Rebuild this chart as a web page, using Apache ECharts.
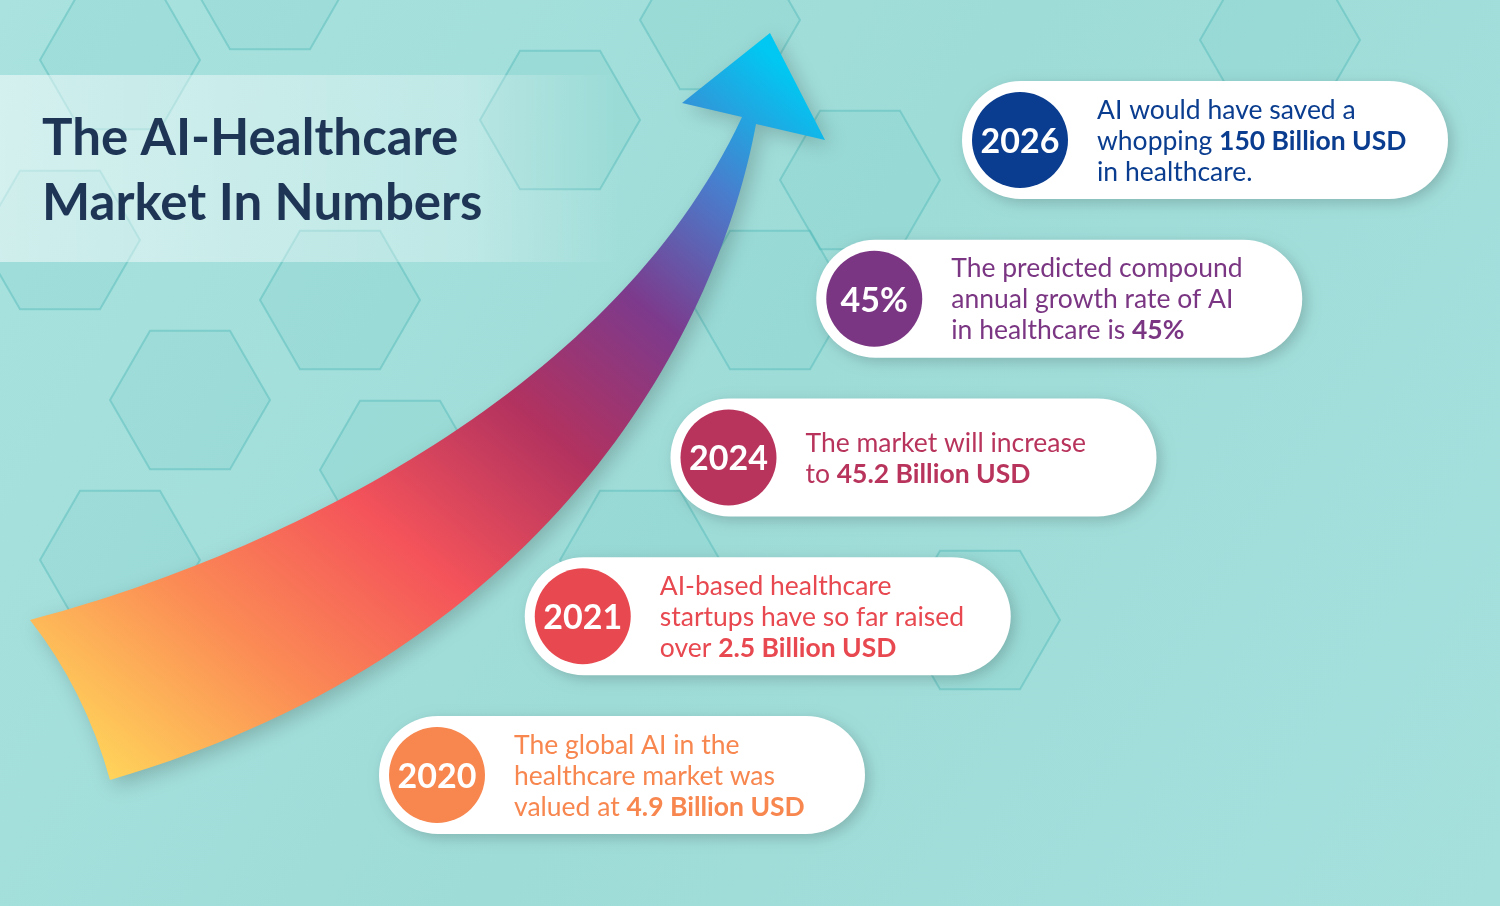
<!DOCTYPE html>
<html><head><meta charset="utf-8">
<script src="https://cdn.jsdelivr.net/npm/echarts@6/dist/echarts.min.js"></script>
<style>html,body{margin:0;padding:0}#c{width:1500px;height:906px}</style>
</head><body><div id="c"></div>
<script>
// Data
const badges = ["2020", "2021", "2024", "45%", "2026"];
const colors = ["#f7864f", "#e8484f", "#b8345c", "#7b3683", "#0a3d8f"];
const lines = [
  ["The global AI in the", "healthcare market was", "valued at {b|4.9 Billion USD}"],
  ["AI-based healthcare", "startups have so far raised", "over {b|2.5 Billion USD}"],
  ["The market will increase", "to {b|45.2 Billion USD}"],
  ["The predicted compound", "annual growth rate of AI", "in healthcare is {b|45%}"],
  ["AI would have saved a", "whopping {b|150 Billion USD}", "in healthcare."]
];
const titleLines = ["The AI-Healthcare", "Market In Numbers"];

const chart = echarts.init(document.getElementById('c'));
const FONT = 'Lato, "Noto Sans", sans-serif';

function hex(cx, cy, r) {
  const pts = [];
  for (let k = 0; k < 6; k++) { const a = Math.PI / 3 * k; pts.push([cx + r * Math.cos(a), cy + r * Math.sin(a)]); }
  return pts;
}
const hexEls = [];
const hexCenters = [[120,60],[270,-20],[560,120],[860,180],[190,400],[120,560],[400,470],[640,560],[770,300],[980,620],[1280,40],[340,300],[60,240],[720,20]];
hexCenters.forEach(c => {
  hexEls.push({type:'polygon', shape:{points:hex(c[0],c[1],80)}, style:{fill:'rgba(120,205,200,0.18)', stroke:'rgba(70,180,180,0.4)', lineWidth:2}, silent:true, z:0});
});

const data = badges.map((b, i) => [i, i]);
const arrowFill = {type:'linear',x:0.1,y:1,x2:0.9,y2:0,colorStops:[{offset:0,color:'#ffd45a'},{offset:0.2,color:'#fb8a55'},{offset:0.38,color:'#f4535a'},{offset:0.56,color:'#b2325f'},{offset:0.72,color:'#7d3a8c'},{offset:0.86,color:'#4a7ccc'},{offset:1,color:'#00c8f2'}]};

chart.setOption({
  animation: false,
  backgroundColor: {type:'linear', x:0, y:0, x2:1, y2:1, colorStops:[{offset:0,color:'#a9e2df'},{offset:0.5,color:'#9edcd8'},{offset:1,color:'#a5e0dd'}]},
  grid: {left: 437, top: 140, width: 583, height: 635},
  xAxis: {type:'value', min:0, max:4, show:false},
  yAxis: {type:'value', min:0, max:4, show:false},
  graphic: [
    ...hexEls,
    {type:'rect', shape:{x:0,y:75,width:620,height:187}, style:{fill:{type:'linear',x:0,y:0,x2:1,y2:0,colorStops:[{offset:0,color:'rgba(255,255,255,0.5)'},{offset:0.75,color:'rgba(255,255,255,0.3)'},{offset:1,color:'rgba(255,255,255,0)'}]}}, z:1, silent:true},
    {type:'text', x:42, y:106, style:{text:titleLines.join('\n'), font:'bold 51px '+FONT, fill:'#1e3556', lineHeight:65}, z:5}
  ],
  series: [{
    type: 'custom',
    data: [[0, 0]],
    z: 3,
    renderItem: function () {
      return {type:'path', shape:{pathData:'M30,620 C260,560 610,400 742,117 L682,103 L770,33 L825,140 L756,124 C720,320 560,650 110,780 Q85,690 30,620 Z'},
        style:{fill:arrowFill, shadowBlur:20, shadowColor:'rgba(0,0,0,0.2)', shadowOffsetX:6, shadowOffsetY:6}};
    }
  }, {
    type: 'custom',
    data: data,
    z: 10,
    renderItem: function (params, api) {
      const i = params.dataIndex;
      const p = api.coord([api.value(0), api.value(1)]);
      const cx = p[0], cy = p[1];
      const col = colors[i];
      return {type:'group', children:[
        {type:'rect', shape:{x:cx-58, y:cy-59, width:486, height:118, r:59}, style:{fill:'#fff', shadowBlur:14, shadowColor:'rgba(0,0,0,0.18)', shadowOffsetX:4, shadowOffsetY:4}},
        {type:'circle', shape:{cx:cx, cy:cy, r:48}, style:{fill:col}},
        {type:'text', x:cx, y:cy+2, style:{text:badges[i], font:'bold 34px '+FONT, fill:'#fff', align:'center', verticalAlign:'middle'}},
        {type:'text', x:cx+77, y:cy+1, style:{text:lines[i].join('\n'), font:'26.5px '+FONT, fill:col, align:'left', verticalAlign:'middle', lineHeight:31,
          rich:{b:{font:'bold 26.5px '+FONT, fill:col, lineHeight:31}}}}
      ]};
    }
  }]
});
</script></body></html>
